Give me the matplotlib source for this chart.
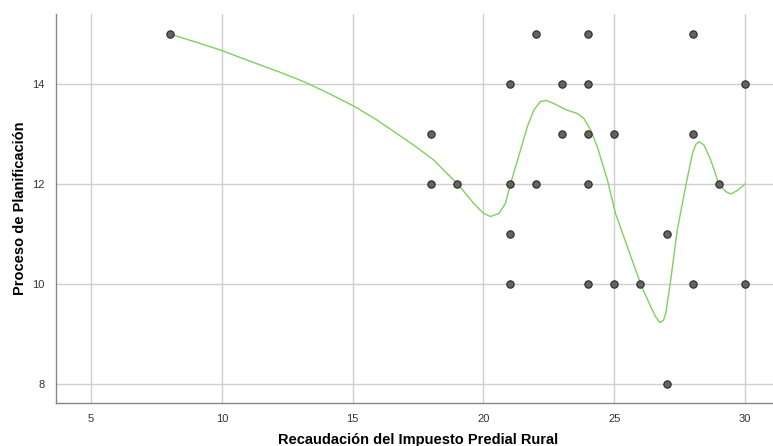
import matplotlib.pyplot as plt

# puntos observados (x: recaudación, y: planificación)
x_pts = [8, 18, 18, 19, 21, 21, 21, 21, 22, 22, 23, 23, 24, 24, 24, 24, 24,
         25, 25, 26, 27, 27, 28, 28, 28, 29, 30, 30]
y_pts = [15, 13, 12, 12, 14, 12, 11, 10, 15, 12, 14, 13, 15, 14, 13, 12, 10,
         13, 10, 10, 11, 8, 15, 13, 10, 12, 14, 10]

# curva de ajuste
fit_x = [8, 9, 10, 10.7, 11.47, 12.3, 13.12, 14.02, 15.04, 15.93, 16.57,
         17.33, 18.1, 18.61, 19.0, 19.3, 19.63, 20.01, 20.27, 20.59, 20.84,
         21.01, 21.23, 21.42, 21.68, 21.93, 22.18, 22.41, 22.69, 23.14, 23.59,
         23.84, 24.1, 24.35, 24.74, 25.05, 25.5, 26.01, 26.39, 26.6, 26.75,
         26.88, 26.97, 27.16, 27.41, 27.73, 27.99, 28.12, 28.24, 28.43, 28.69,
         29.0, 29.26, 29.45, 29.71, 30]
fit_y = [15, 14.84, 14.67, 14.53, 14.38, 14.22, 14.05, 13.83, 13.56, 13.28,
         13.05, 12.78, 12.48, 12.21, 12.01, 11.82, 11.61, 11.41, 11.35, 11.41,
         11.61, 11.95, 12.35, 12.68, 13.15, 13.48, 13.65, 13.67, 13.61, 13.49,
         13.41, 13.31, 13.08, 12.75, 12.08, 11.41, 10.75, 10.0, 9.55, 9.33,
         9.23, 9.27, 9.41, 10.08, 11.08, 11.95, 12.61, 12.79, 12.85, 12.78,
         12.48, 12.0, 11.85, 11.8, 11.87, 12.0]

x_ticks = [5, 10, 15, 20, 25, 30]
y_ticks = [8, 10, 12, 14]

plt.rcParams["font.family"] = ["Liberation Sans", "DejaVu Sans"]

fig = plt.figure(figsize=(7.73, 4.46), dpi=100)
ax = fig.add_axes([56 / 773, 1 - 403 / 446, 1 - 56 / 773, (403 - 14) / 446])

ax.plot(fit_x, fit_y, color="#7fd15f", linewidth=1.0, zorder=2)
ax.scatter(x_pts, y_pts, s=28, color="#636363", edgecolors="#2b2b2b",
           linewidths=0.8, zorder=3)

ax.set_xlim(3.66, 31.07)
ax.set_ylim(7.62, 15.40)
ax.set_xticks(x_ticks)
ax.set_yticks(y_ticks)
ax.tick_params(length=0, labelsize=8, labelcolor="#333333", pad=8)
ax.grid(True, color="#cfcfcf", linewidth=1.0)
ax.set_axisbelow(True)

for side in ["top", "right"]:
    ax.spines[side].set_visible(False)
for side in ["left", "bottom"]:
    ax.spines[side].set_color("#888888")
    ax.spines[side].set_linewidth(1.0)

ax.set_ylabel("Proceso de Planificación", fontsize=10.5, fontweight="bold")
ax.yaxis.set_label_coords(-0.040, 0.501)
fig.text(418 / 773, 1 - 440 / 446, "Recaudación del Impuesto Predial Rural",
         ha="center", va="center", fontsize=10.5, fontweight="bold")

fig.savefig("out.png", dpi=100)
